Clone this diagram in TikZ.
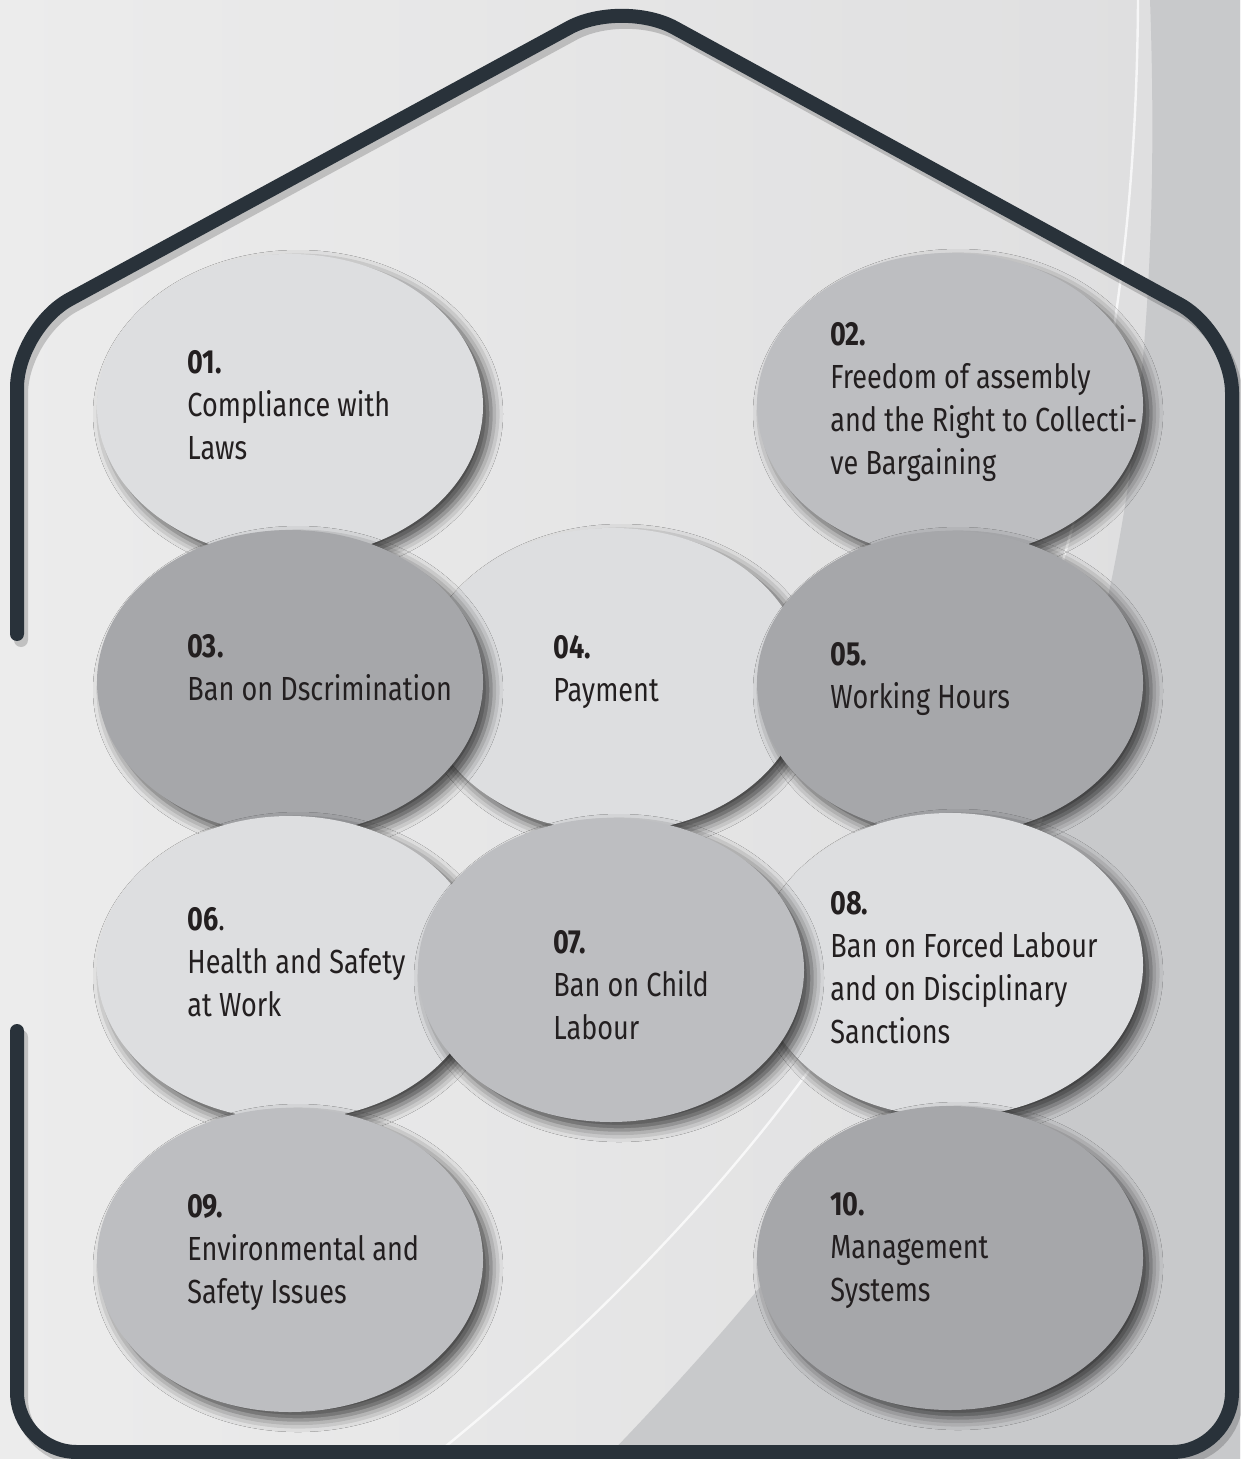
\documentclass[tikz,border=0pt]{standalone}
\usepackage{fontspec}
\setmainfont{Fira Sans}[FakeStretch=0.81]
\usetikzlibrary{shapes.geometric,shadows.blur}
\definecolor{wall}{HTML}{29323A}
\definecolor{bgleft}{HTML}{ECECEC}
\definecolor{bgright}{HTML}{DEDEDF}
\definecolor{bgdark}{HTML}{C8C9CB}
\definecolor{lightgr}{HTML}{DDDEE0}
\definecolor{midgr}{HTML}{BDBEC1}
\definecolor{darkgr}{HTML}{A6A7AA}
\definecolor{ink}{HTML}{231F20}
\begin{document}
\begin{tikzpicture}[x=0.5pt,y=-0.5pt]
\tikzstyle{every node}+=[inner sep=0pt]
\tikzstyle{bubble}=[ellipse, minimum width=193pt, minimum height=152pt, blur shadow={shadow xshift=4pt, shadow yshift=-4pt, shadow blur radius=6pt, shadow opacity=70}]
\tikzstyle{txt}=[anchor=north west, align=left, text=ink, font=\fontsize{16.7}{21.5}\selectfont]
\tikzstyle{house}=[line width=7pt, line cap=round, line join=round, rounded corners=30pt]
\useasboundingbox (0,0) rectangle (1240,1459);
% background
\fill [left color=bgleft, right color=bgright] (0,0) rectangle (1240,1459);
\fill [bgdark] (1150,0) .. controls (1175,700) and (1000,1050) .. (605,1459) -- (1240,1459) -- (1240,0) -- cycle;
\draw [white, line width=1.2pt, opacity=0.75] (1138,0) .. controls (1135,500) and (1000,1000) .. (430,1459);
% house outline
\draw [house, black, opacity=0.18, shift={(4,6)}] (17,634) -- (17,328) -- (622,-1) -- (1232,333) -- (1232,1452) -- (17,1452) -- (17,1031);
\draw [house, wall] (17,634) -- (17,328) -- (622,-1) -- (1232,333) -- (1232,1452) -- (17,1452) -- (17,1031);
% bubbles
\node [bubble, fill=lightgr] (e04) at (613,680) {};
\node [bubble, fill=lightgr] (e01) at (290,406) {};
\node [bubble, fill=midgr] (e02) at (950,405) {};
\node [bubble, fill=darkgr] (e03) at (290,682) {};
\node [bubble, fill=darkgr] (e05) at (950,683) {};
\node [bubble, fill=lightgr] (e06) at (290,968) {};
\node [bubble, fill=lightgr] (e08) at (950,965) {};
\node [bubble, fill=midgr] (e07) at (611,970) {};
\node [bubble, fill=midgr] (e09) at (290,1260) {};
\node [bubble, fill=darkgr] (e10) at (950,1258) {};
% texts
\node [txt] (t01) at (187,350) {\textbf{01.}\\Compliance with\\Laws};
\node [txt] (t02) at (830,322) {\textbf{02.}\\Freedom of assembly\\and the Right to Collecti-\\ve Bargaining};
\node [txt] (t03) at (187,634) {\textbf{03.}\\Ban on Dscrimination};
\node [txt] (t04) at (553,635) {\textbf{04.}\\Payment};
\node [txt] (t05) at (830,642) {\textbf{05.}\\Working Hours};
\node [txt] (t06) at (187,907) {\textbf{06}.\\Health and Safety\\at Work};
\node [txt] (t07) at (553,930) {\textbf{07.}\\Ban on Child\\Labour};
\node [txt] (t08) at (830,891) {\textbf{08.}\\Ban on Forced Labour\\and on Disciplinary\\Sanctions};
\node [txt] (t09) at (187,1194) {\textbf{09.}\\Environmental and\\Safety Issues};
\node [txt] (t10) at (830,1192) {\textbf{10.}\\Management\\Systems};
\end{tikzpicture}
\end{document}
